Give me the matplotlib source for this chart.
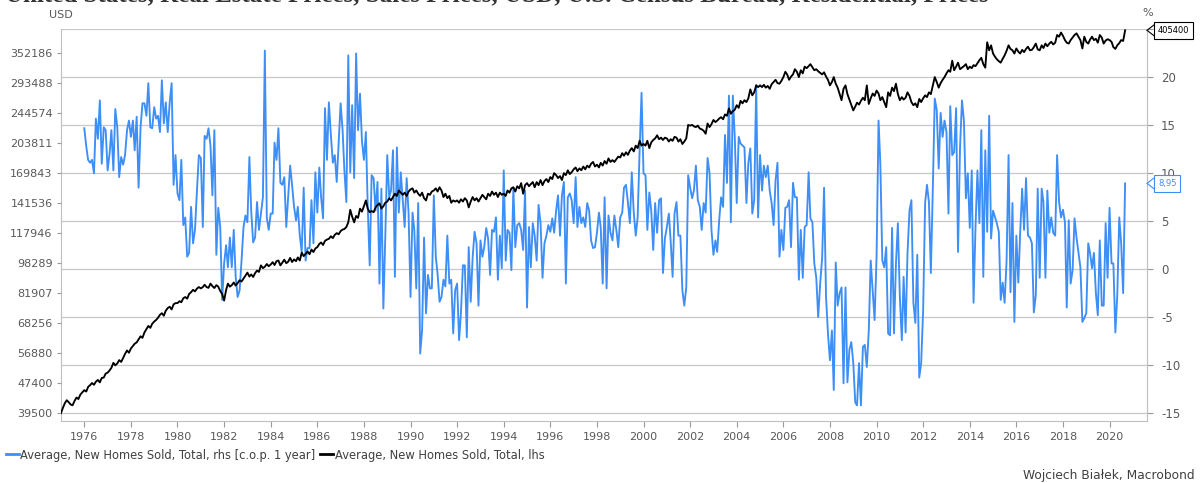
import numpy as np
import pandas as pd
import matplotlib
matplotlib.use('Agg')
import matplotlib.pyplot as plt
import matplotlib.dates as mdates
from matplotlib.lines import Line2D
from matplotlib.ticker import FixedLocator, FixedFormatter, NullLocator

# --- data: average new home sales price, monthly, thousand USD (Jan 1975 - Sep 2020) ---
usd_k = [
    39.5, 40.8, 41.9, 42.7, 42.2, 41.6, 41.4, 42.5, 43.4, 43.0, 44.2, 44.8,   # 1975
    45.4, 45.0, 46.3, 46.8, 47.4, 46.9, 47.8, 48.3, 47.6, 48.9, 49.0, 50.2,   # 1976
    50.5, 51.2, 52.0, 53.6, 52.8, 53.4, 54.5, 53.9, 55.2, 56.6, 57.8, 57.0,   # 1977
    58.5, 59.4, 60.2, 60.7, 61.8, 63.0, 62.4, 64.5, 65.8, 67.1, 66.3, 68.0,   # 1978
    68.9, 69.6, 70.5, 71.8, 72.5, 71.4, 73.6, 74.8, 75.4, 74.2, 76.5, 77.1,   # 1979
    77.1, 78.0, 77.5, 79.4, 80.0, 79.2, 81.5, 82.4, 83.6, 82.8, 84.2, 85.0,   # 1980
    84.3, 85.0, 86.2, 85.0, 84.6, 86.8, 85.5, 84.5, 86.0, 85.2, 83.0, 81.5,   # 1981
    78.3, 83.5, 86.8, 85.2, 86.0, 87.4, 85.8, 87.1, 88.6, 87.9, 89.5, 91.0,   # 1982
    92.8, 90.6, 91.8, 90.4, 92.5, 94.0, 93.2, 97.0, 95.4, 96.2, 97.8, 96.5,   # 1983
    97.5, 98.9, 97.2, 99.5, 99.9, 97.0, 98.6, 100.4, 98.3, 99.2, 101.5, 99.0,  # 1984
    100.6, 99.5, 101.8, 99.9, 104.8, 102.6, 104.0, 105.5, 103.8, 106.8, 105.2, 107.5,  # 1985
    108.4, 110.5, 111.5, 109.8, 112.6, 113.5, 114.0, 115.8, 114.5, 116.8, 118.0, 117.2,  # 1986
    119.5, 120.6, 121.0, 122.5, 126.0, 136.0, 130.5, 126.0, 131.0, 129.5, 137.0, 134.5,  # 1987
    139, 144, 137, 134, 135, 134, 138, 140, 141.5, 137, 139, 142,   # 1988
    143, 146, 144, 147, 150, 148, 153, 151, 149, 151, 148, 152,     # 1989
    154, 155, 151, 153, 150, 148, 151, 146, 144, 150, 149, 152,     # 1990
    153, 155, 152, 156, 153, 147, 150, 146, 148, 142, 144, 143,     # 1991
    144, 142, 145, 143, 146, 144, 138, 143, 147, 144, 146, 143,     # 1992
    146, 149, 147, 145, 150, 148, 152, 149, 151, 147, 151, 149,     # 1993
    150, 148, 153, 151, 155, 156, 152, 157, 155, 160, 150, 158,     # 1994
    160, 157, 159, 161, 156, 161, 158, 163, 158, 162, 164, 161,     # 1995
    166, 164, 170, 168, 165, 167, 163, 170, 168, 173, 169, 171,     # 1996
    174, 176, 172, 175, 173, 177, 174, 178, 176, 180, 182, 177,     # 1997
    179, 176, 181, 178, 183, 180, 186, 182, 184, 182, 185, 188,     # 1998
    187, 192, 189, 193, 190, 195, 198, 194, 201, 198, 207, 201,     # 1999
    203, 201, 207, 198, 205, 208, 210, 214, 209, 211, 208, 211,     # 2000
    210, 206, 209, 207, 212, 211, 206, 209, 203, 206, 210, 228,     # 2001
    227, 228, 226, 225, 227, 223, 222, 220, 216, 230, 225, 229,     # 2002
    235, 232, 234, 237, 239, 236, 243, 241, 252, 244, 248, 250,     # 2003
    257, 253, 264, 260, 265, 262, 268, 283, 273, 278, 290, 287,     # 2004
    290, 287, 291, 286, 289, 284, 292, 296, 300, 294, 293, 298,     # 2005
    305, 315, 310, 300, 306, 310, 320, 315, 305, 318, 312, 325,     # 2006
    322, 326, 330, 324, 318, 320, 316, 313, 310, 314, 306, 300,     # 2007
    290, 296, 305, 293, 286, 275, 265, 284, 290, 275, 266, 258,     # 2008
    249, 255, 261, 258, 264, 269, 265, 290, 259, 268, 276, 272,     # 2009
    281, 276, 265, 270, 262, 254, 278, 272, 286, 280, 293, 275,     # 2010
    265, 270, 266, 269, 278, 272, 262, 257, 260, 254, 267, 262,     # 2011
    268, 273, 270, 278, 275, 290, 305, 296, 286, 294, 300, 305,     # 2012
    312, 318, 315, 337, 318, 325, 333, 320, 323, 326, 330, 320,     # 2013
    325, 322, 328, 326, 332, 338, 343, 330, 323, 377, 359, 370,     # 2014
    352, 345, 340, 336, 333, 341, 348, 358, 370, 362, 359, 352,     # 2015
    363, 356, 352, 360, 355, 362, 367, 359, 360, 366, 374, 361,     # 2016
    359, 370, 364, 374, 368, 374, 378, 372, 376, 394, 390, 400,     # 2017
    392, 382, 376, 374, 382, 388, 394, 398, 390, 382, 363, 390,     # 2018
    378, 374, 383, 390, 382, 385, 376, 394, 388, 374, 381, 384,     # 2019
    382, 378, 366, 362, 370, 375, 382, 380, 405.4,                  # 2020
]

# --- data: same series, change on previous year, % (Jan 1976 - Sep 2020) ---
yoy_pct = [
    # 1976 - 1987
    14.7, 12.8, 11.4, 11.1, 11.4, 10.0, 15.7, 13.6, 17.6, 11.0,
    14.8, 14.5, 10.3, 12.1, 14.5, 10.3, 16.7, 14.8, 9.6, 11.7,
    10.9, 11.9, 14.5, 15.5, 13.8, 15.5, 12.4, 15.9, 8.5, 14.8,
    17.3, 17.3, 16.0, 19.4, 14.8, 14.7, 16.9, 15.7, 16.0, 14.3,
    19.7, 15.2, 17.4, 14.3, 17.4, 19.4, 8.8, 11.9, 7.9, 7.2,
    11.4, 4.6, 5.4, 1.3, 1.7, 6.5, 2.7, 4.1, 8.2, 11.9,
    11.6, 4.4, 13.9, 13.6, 14.7, 12.9, 7.7, 14.5, 1.5, 6.4,
    4.4, -3.2, 0.6, 2.5, 0.2, 3.3, 0.2, 4.1, -0.8, -2.9,
    -2.2, 0.9, 4.4, 5.6, 4.9, 11.7, 6.1, 2.8, 3.3, 7.0,
    4.1, 5.8, 7.5, 22.8, 5.4, 4.1, 5.8, 5.8, 13.2, 11.4,
    14.7, 9.0, 8.8, 9.6, 4.4, 7.5, 10.8, 8.8, 6.5, 5.1,
    6.5, 3.5, 1.8, 8.5, 0.9, 2.2, 2.2, 7.2, 2.7, 10.1,
    5.9, 10.6, 7.5, 5.3, 16.8, 11.4, 17.4, 14.0, 11.1, 11.9,
    9.1, 13.1, 17.3, 14.5, 10.3, 7.0,
    # 1988 - 2000
    22.3, 10.1, 17.1, 9.5, 22.5, 14.5, 18.3, 13.4, 11.4, 14.3, 6.5,
    0.4, 9.8, 9.5, 6.1, 9.1, -1.5, 8.4, -4.1, 3.3, 11.9,
    7.5, 8.2, 12.4, -0.8, 12.7, 5.9, 10.1, 7.2, 4.4, 9.5,
    5.9, -2.9, 5.9, 4.1, -2.0, 6.9, -8.8, -6.4, 3.3, -4.6,
    -0.6, -2.0, -2.0, 7.7, 1.3, -0.5,
    -3.4, -2.9, -1.1, -1.8, 3.5,
    -1.5, -1.1, -6.7, -2.2, -1.5, -7.4, -4.6, 0.4, 0.4, -7.1,
    2.3, -3.4, 1.3, 3.9, 2.7, -3.8, 3.0, 1.3, 2.3, 4.3, 3.2,
    -0.6, 4.1, 3.9, 5.4, -1.1, 3.5, 0.1, 10.3, 0.9, 4.1,
    3.8, -0.1, 8.5, 2.3, 4.6, 4.8, 4.1, 2.0, 8.2, -4.0,
    4.4, 0.2, 4.8, 3.5, 0.9, 6.7, 4.8, -0.9, 2.7, 3.5, 4.6,
    3.9, 5.3, 3.8, 6.1, 7.7, 3.5, 7.7, 9.1, -1.5, 7.5,
    7.9, 7.2, 4.8, 9.6, 4.4, 6.5, 4.8, 5.4, 4.4, 6.9,
    6.1, 3.0, 2.2, 2.3, 3.8, 5.9, 4.4, -1.5, 7.5, -2.0,
    5.6, 3.8, 3.0, 5.6, 4.1, 2.3, 5.4, 5.9, 8.5, 8.8, 7.0,
    4.8, 10.1, 5.9, 3.5, 5.4, 12.4, 18.4, 10.0, 9.8, 4.1, 8.0,
    # 2000 - 2012
    6.1, 2.0, 6.9, 3.8, 7.2, 7.4, -0.4, 3.2, 4.4, 5.8,
    3.0, -0.8, 5.8, 7.0, 3.5, 3.5, -2.2, -3.8, -1.9, 9.8,
    8.5, 7.4, 8.2, 10.8, 7.2, 6.5, 4.1, 6.9, 5.9, 11.6,
    10.0, 4.1, 1.5, 3.0, 1.8, 5.1, 7.5, 6.5, 14.0, 9.0,
    18.1, 4.9, 18.1, 13.8, 6.9, 13.8, 13.1, 12.9, 12.7, 6.9,
    11.1, 12.6, 5.8, 7.2, 19.2, 5.4, 11.9, 8.2, 10.8, 9.6,
    10.8, 8.2, 6.9, 4.6, 9.3, 11.1, 1.3, 4.1, 2.0, 6.4,
    6.5, 7.2, 2.3, 9.0, 7.5, 7.5, -1.1, 4.1, -0.9, 4.4,
    4.6, 10.1, 5.3, 4.9, 0.6, -0.9, -5.0, -1.5, 1.2,
    8.5, -2.9, -6.7, -9.5, -6.4, -12.6, 0.7, -3.8, -2.5, -1.9,
    -11.9, -1.9, -11.8, -8.4, -7.6, -9.8, -13.9, -14.2, -9.8, -14.2,
    -8.1, -7.9, -10.2, -6.4, 0.9, -2.2, -5.3, 1.3, 15.5, 11.0,
    0.9, 0.2, 2.3, -6.7, -6.9, 4.3, -6.7, 0.6, 4.8, -2.9,
    -7.4, -0.8,
    -6.6, 1.7, 6.1, 7.2, -3.5, -5.6, 1.5, -11.3, -9.8, -4.3, 6.9, 8.8, 7.0,
    # 2012 - 2020
    -0.4, 8.5, 17.8, 16.6, 10.5, 16.3, 13.8, 15.5, 14.3,
    5.8, 17.0, 11.9, 12.2, 16.8, 1.8, 12.7, 17.6, 15.5, 7.4,
    10.0, 4.3, 10.3, -3.5, 4.4, 10.3, 4.8, 14.5, -0.8, 12.4,
    3.9, 16.0, 3.2, 6.1, 5.4, 4.8, 3.9, -3.2, -1.4, -3.5,
    0.9, 11.9, -2.4, 6.9, -5.5, 3.5, -1.4, 3.8, 8.4, 4.1,
    9.5, 3.5, 3.3, 2.7, -4.5, -2.7, 8.4, -0.9, 8.4, 7.0,
    -0.9, 8.2, 3.8, 5.4, 3.8, 3.5, 11.9, 7.0, 5.4, 6.2, 4.9,
    -4.0, 5.1, -1.5, -0.1, 5.3, 3.3, 1.7, 0.2, -5.5,
    -5.1, -4.6, 2.7, 1.7, 0.1, 1.7, -2.5, -4.8, 3.0, -3.8,
    -3.8, 4.8, -0.9, 6.4, 0.6, 0.6, -6.6, -2.7, 5.4, 2.7, -2.5, 8.95,
]

usd_ticks = [39500, 47400, 56880, 68256, 81907, 98289, 117946, 141536,
             169843, 203811, 244574, 293488, 352186]
pct_ticks = [-15, -10, -5, 0, 5, 10, 15, 20, 25]
pct_labels = ['-15', '-10', '-5', '0', '5', '10', '15', '20', '']  # 25 sits under the callout

usd = np.array(usd_k) * 1000
dates = pd.date_range('1975-01-01', periods=len(usd), freq='MS')
yoy_dates = dates[-len(yoy_pct):]

BLUE = '#3d8ef5'
GRID = '#c8c8c8'
SPINE = '#bfbfbf'
TXT = '#595959'


# the two scales are locked together: 5 % on the right = one factor 1.2 on the left
def pct_to_usd(p):
    return 39500 * 1.2 ** ((p + 15) * 0.32)


fig = plt.figure(figsize=(12, 4.83), dpi=100)
ax = fig.add_axes([61 / 1200, 1 - 421 / 483, 1086 / 1200, 392 / 483])
axl = ax.twinx()

# right axis (%), blue series
ax.plot(yoy_dates, yoy_pct, color=BLUE, lw=1.35)
ax.set_ylim(-15 - 8 / 9.6, 25.05)
ax.set_yticks(pct_ticks)
ax.set_yticklabels(pct_labels)
ax.yaxis.tick_right()
ax.grid(axis='y', color=GRID, lw=0.9)
ax.set_axisbelow(True)
ax.set_xlim(pd.Timestamp('1975-01-01'), pd.Timestamp('2021-08-10'))
ax.xaxis.set_major_locator(mdates.YearLocator(2))
ax.xaxis.set_major_formatter(mdates.DateFormatter('%Y'))
ax.tick_params(axis='x', direction='out', length=4, color='#9a9a9a',
               labelcolor=TXT, labelsize=8, pad=4)
ax.tick_params(axis='y', direction='out', length=4, color='#9a9a9a',
               labelcolor=TXT, labelsize=8.5, pad=6, left=False, labelleft=False,
               right=True, labelright=True)
ax.spines['top'].set_visible(False)
for s in ['left', 'right', 'bottom']:
    ax.spines[s].set_color(SPINE)

# left axis (USD, log), black series
axl.plot(dates, usd, color='black', lw=1.35)
axl.set_yscale('log')
lo, hi = ax.get_ylim()
axl.set_ylim(pct_to_usd(lo), pct_to_usd(hi))
axl.yaxis.set_major_locator(FixedLocator(usd_ticks))
axl.yaxis.set_major_formatter(FixedFormatter([str(t) for t in usd_ticks]))
axl.yaxis.set_minor_locator(NullLocator())
axl.tick_params(axis='y', which='both', direction='out', length=3, color='#9a9a9a',
                labelcolor=TXT, labelsize=8, pad=3, left=True, labelleft=True,
                right=False, labelright=False)
for s in axl.spines.values():
    s.set_visible(False)


# last-value callouts
def callout(axis_tr, value, text, color):
    for dy in (4, -4):
        axl.annotate('', xy=(1, value), xycoords=axis_tr, xytext=(5.2, dy),
                     textcoords='offset points', annotation_clip=False,
                     arrowprops=dict(arrowstyle='-', color=color, lw=0.8,
                                     shrinkA=0, shrinkB=0))
    axl.annotate(text, xy=(1, value), xycoords=axis_tr, xytext=(8, 0),
                 textcoords='offset points', ha='left', va='center',
                 fontsize=6, color=color, annotation_clip=False,
                 bbox=dict(boxstyle='square,pad=0.45', fc='white', ec=color, lw=0.8))


callout(axl.get_yaxis_transform(), usd[-1], f'{usd[-1]:.0f}', 'black')
callout(ax.get_yaxis_transform(), yoy_pct[-1], f'{yoy_pct[-1]:.2f}'.replace('.', ','), BLUE)

# texts (the title is cut by the top edge, as in the original export)
fig.text(0.004, 1 - 1 / 483,
         'United States, Real Estate Prices, Sales Prices, USD, U.S. Census Bureau, Residential, Prices',
         ha='left', va='baseline', fontsize=18, fontweight='bold',
         family='Liberation Serif', color='#333333')
fig.text(61 / 1200, 1 - 15 / 483, 'USD', ha='center', va='center', fontsize=8, color=TXT)
fig.text(1148 / 1200, 1 - 13 / 483, '%', ha='center', va='center', fontsize=8, color=TXT)
fig.text(1195 / 1200, 1 - 476 / 483, 'Wojciech Białek, Macrobond', ha='right',
         va='center', fontsize=8.8, color='#404040')

handles = [Line2D([], [], color=BLUE, lw=2), Line2D([], [], color='black', lw=2)]
labels = ['Average, New Homes Sold, Total, rhs [c.o.p. 1 year]',
          'Average, New Homes Sold, Total, lhs']
fig.legend(handles, labels, loc='center left', bbox_to_anchor=(6 / 1200, 1 - 455 / 483),
           ncol=2, frameon=False, fontsize=8.3, handlelength=1.1, handletextpad=0.15,
           columnspacing=0.4, borderpad=0, borderaxespad=0, labelcolor='#404040')

fig.savefig('out.png', dpi=100)
